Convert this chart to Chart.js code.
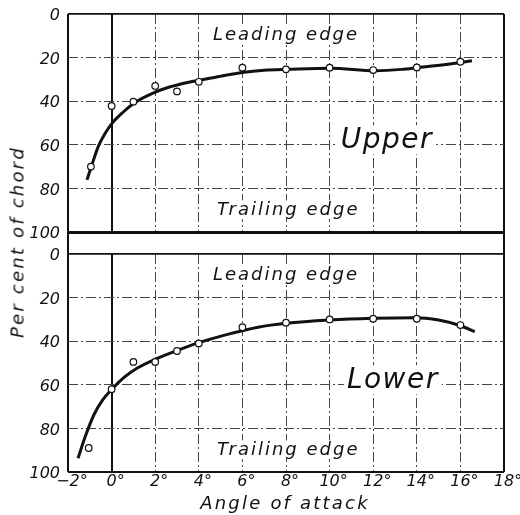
<!DOCTYPE html>
<html>
<head>
<meta charset="utf-8">
<title>Per cent of chord vs. angle of attack</title>
<script src="https://cdn.jsdelivr.net/npm/chart.js@4"></script>
<style>
  html, body { margin: 0; padding: 0; background: #fff; }
  #wrap { position: relative; width: 520px; height: 515px; overflow: hidden; }
  #upper { position: absolute; left: 0; top: -6px; }
  #lower { position: absolute; left: 0; top: 234px; }
  #gap {
    position: absolute; left: 67px; top: 232px; width: 438px; height: 22px;
    box-sizing: border-box; border-left: 2px solid #111; border-right: 2px solid #111;
  }
  .axis-title {
    position: absolute; font: italic 18px "DejaVu Sans", sans-serif;
    letter-spacing: 2.2px; color: #111; white-space: nowrap;
  }
  #ytitle { left: 17px; top: 242px; transform: translate(-50%, -50%) rotate(-90deg); }
  #xtitle { left: 285px; top: 502px; transform: translate(-50%, -50%); }
</style>
</head>
<body>
<div id="wrap">
  <div id="gap"></div>
  <canvas id="upper" width="520" height="258"></canvas>
  <canvas id="lower" width="520" height="281"></canvas>
  <div class="axis-title" id="ytitle">Per cent of chord</div>
  <div class="axis-title" id="xtitle">Angle of attack</div>
</div>
<script>
// ---- measured points, upper surface ----
const upperAngles  = [-0.95, 0, 1, 2, 3, 4, 6, 8, 10, 12, 14, 16];
const upperPercent = [70, 42.2, 40.2, 33, 35.5, 31.1, 24.6, 25.4, 24.6, 25.7, 24.5, 21.9];

// faired curve, upper surface
const upperCurveAngles  = [-1.13, -0.93, -0.6, -0.3, 0, 0.5, 1.09, 1.85, 2.62, 3.54, 4.15, 5.06, 6, 7, 8.09, 10.06, 12.07, 13.32, 14.02, 16.03, 16.53];
const upperCurvePercent = [76.1, 70, 60.5, 54.8, 50.4, 45.3, 40.5, 36.5, 33.6, 31.3, 30.2, 28.4, 26.8, 25.8, 25.4, 24.9, 26, 25.4, 24.6, 22.2, 21.4];

// ---- measured points, lower surface ----
const lowerAngles  = [-1.05, 0, 1, 2, 3, 4, 6, 8, 10, 12, 14, 16];
const lowerPercent = [89, 62, 49.5, 49.5, 44.5, 41, 33.6, 31.5, 30, 29.7, 29.7, 32.6];

// faired curve, lower surface
const lowerCurveAngles  = [-1.54, -1.2, -0.8, -0.4, 0, 0.6, 1.2, 2, 3.05, 3.96, 5.19, 6.72, 8, 10, 12, 13.9, 15, 16, 16.66];
const lowerCurvePercent = [93.7, 83.5, 73.5, 66.8, 62.2, 56.4, 52.2, 48.3, 44.1, 40.8, 37.2, 33.6, 31.8, 30.3, 29.5, 29.2, 30.3, 32.9, 35.6];

// axis ranges and tick steps
const angleRange = [-2, 18];
const angleStep = 2;
const percentRange = [0, 100];
const percentStep = 10;
const percentLabelStep = 20;

// panel captions
const upperNotes = [
  { text: 'Leading edge', angle: 8.0, percent: 10, kind: 'small' },
  { text: 'Trailing edge', angle: 8.1, percent: 90, kind: 'small' },
  { text: 'Upper', angle: 12.63, percent: 60, kind: 'big' }
];
const lowerNotes = [
  { text: 'Leading edge', angle: 8.0, percent: 10, kind: 'small' },
  { text: 'Trailing edge', angle: 8.1, percent: 90, kind: 'small' },
  { text: 'Lower', angle: 12.9, percent: 60, kind: 'big' }
];

// ---- styling ----
const INK = '#111';
const FONT = '"DejaVu Sans", sans-serif';
const noteStyles = {
  small: { size: 18, spacing: 2, shift: 0.25 },
  big:   { size: 28, spacing: 1.5, shift: 0.1 }
};
const chainDash = [10, 3, 2, 3];

const toPoints = (xs, ys) => xs.map((x, i) => ({ x, y: ys[i] }));

// captions with a white backing so the grid breaks around them
const notesPlugin = {
  id: 'panelNotes',
  beforeDatasetsDraw(chart, args, opts) {
    const { ctx } = chart;
    const xs = chart.scales.x, ys = chart.scales.y;
    (opts.notes || []).forEach(n => {
      const st = noteStyles[n.kind];
      ctx.save();
      ctx.font = `italic ${st.size}px ${FONT}`;
      ctx.letterSpacing = st.spacing + 'px';
      ctx.textAlign = 'left';
      ctx.textBaseline = 'alphabetic';
      const w = ctx.measureText(n.text).width;
      const cx = xs.getPixelForValue(n.angle);
      const base = ys.getPixelForValue(n.percent) + st.size * st.shift;
      ctx.fillStyle = '#fff';
      ctx.fillRect(cx - w / 2 - 3, base - st.size * 0.8, w + 6, st.size * 1.04);
      ctx.fillStyle = INK;
      ctx.fillText(n.text, cx - w / 2, base);
      ctx.restore();
    });
  }
};

function angleLabel(v) {
  return (v < 0 ? '\u2212' + Math.abs(v) : String(v)) + '\u00b0';
}

const isAngleFrame = c => !!c.tick && [angleRange[0], 0, angleRange[1]].includes(c.tick.value);
const isPercentFrame = c => !!c.tick && [0, 50, 100].includes(c.tick.value);

function makePanel(id, pts, curve, notes, showAngles, xHeight, padBottom, thick100) {
  const tickFont = { family: FONT, size: 16, style: 'italic' };
  return new Chart(document.getElementById(id), {
    type: 'scatter',
    data: {
      datasets: [
        {
          data: pts,
          showLine: false,
          pointRadius: 3.3,
          pointBackgroundColor: '#fff',
          pointBorderColor: INK,
          pointBorderWidth: 1.2,
          order: 0
        },
        {
          data: curve,
          showLine: true,
          pointRadius: 0,
          borderColor: INK,
          borderWidth: 3,
          cubicInterpolationMode: 'monotone',
          fill: false,
          order: 1
        }
      ]
    },
    options: {
      responsive: false,
      animation: false,
      events: [],
      layout: { autoPadding: false, padding: { left: 0, right: 16, top: 20, bottom: padBottom } },
      plugins: {
        legend: { display: false },
        tooltip: { enabled: false },
        panelNotes: { notes }
      },
      scales: {
        x: {
          type: 'linear',
          min: angleRange[0],
          max: angleRange[1],
          afterFit: s => { s.height = xHeight; },
          ticks: {
            display: showAngles,
            stepSize: angleStep,
            autoSkip: false,
            maxRotation: 0,
            padding: 0,
            labelOffset: 4,
            color: INK,
            font: tickFont,
            callback: v => angleLabel(v)
          },
          grid: {
            drawTicks: false,
            color: c => isAngleFrame(c) ? INK : '#444',
            lineWidth: c => isAngleFrame(c) ? 2 : 1
          },
          border: {
            display: false,
            dash: c => (c.tick && !isAngleFrame(c)) ? chainDash : []
          }
        },
        y: {
          type: 'linear',
          reverse: true,
          min: percentRange[0],
          max: percentRange[1],
          afterFit: s => { s.width = 68; },
          ticks: {
            stepSize: percentStep,
            padding: 8,
            labelOffset: 2,
            color: INK,
            font: tickFont,
            callback: v => (v % percentLabelStep === 0 ? String(v) : '')
          },
          grid: {
            drawTicks: false,
            color: c => isPercentFrame(c) ? INK : '#444',
            lineWidth: c => {
              if (!c.tick) return 1;
              if (c.tick.value === 100) return thick100;
              if (c.tick.value === 0 || c.tick.value === 50) return 1.7;
              return 1;
            }
          },
          border: {
            display: false,
            dash: c => (c.tick && !isPercentFrame(c)) ? chainDash : []
          }
        }
      }
    },
    plugins: [notesPlugin]
  });
}

makePanel('upper',
  toPoints(upperAngles, upperPercent),
  toPoints(upperCurveAngles, upperCurvePercent),
  upperNotes, false, 0, 20, 3);

makePanel('lower',
  toPoints(lowerAngles, lowerPercent),
  toPoints(lowerCurveAngles, lowerCurvePercent),
  lowerNotes, true, 43, 0, 2);
</script>
</body>
</html>
